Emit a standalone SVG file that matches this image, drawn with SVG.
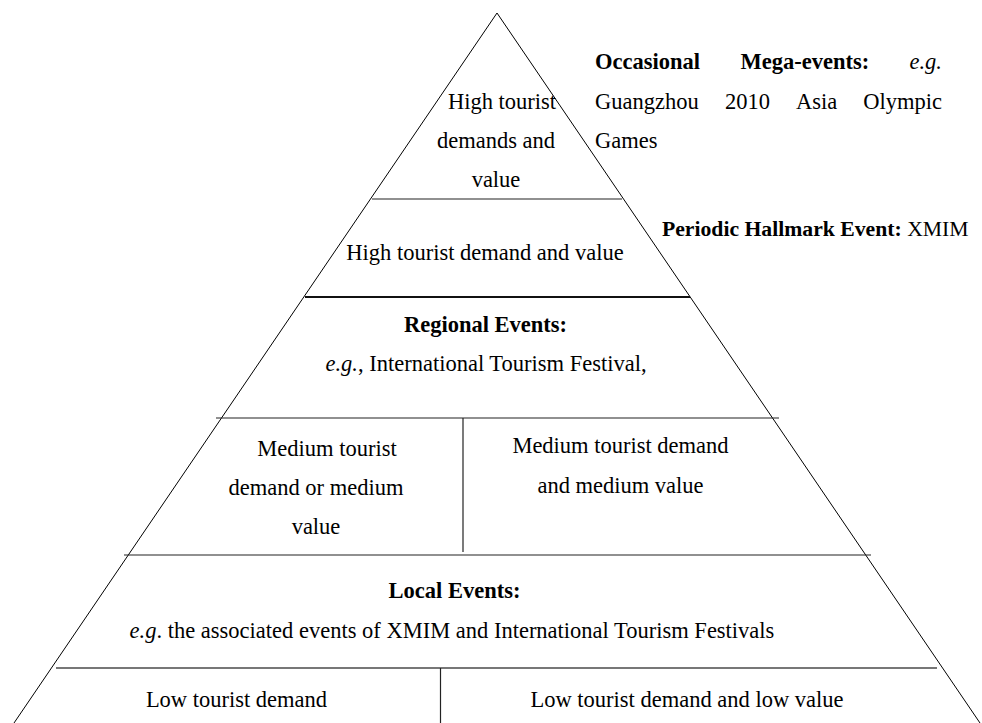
<svg xmlns="http://www.w3.org/2000/svg" width="982" height="723" viewBox="0 0 982 723">
  <style>
    text { font-family: "Liberation Serif", "Times New Roman", serif; font-size: 22.5px; fill: #000; }
    .c { text-anchor: middle; }
    .e { text-anchor: end; }
    .b { font-weight: bold; }
    .i { font-style: italic; }
    .edge { stroke: #000; stroke-width: 1; fill: none; }
    .tier { stroke: #222; stroke-width: 1.2; fill: none; }
    .thick { stroke: #111; stroke-width: 2; fill: none; }
    .grey { stroke: #777; stroke-width: 2; fill: none; }
  </style>
  <rect width="982" height="723" fill="#fff"/>

  <!-- pyramid outline and tier dividers -->
  <g id="connectors">
    <polyline class="edge" points="14,723 497,13 980,723"/>
    <line class="tier" x1="372" y1="199" x2="622" y2="199"/>
    <line class="thick" x1="305" y1="297" x2="690" y2="297"/>
    <line class="tier" x1="216" y1="418" x2="779" y2="418"/>
    <line class="tier" x1="463" y1="418" x2="463" y2="552"/>
    <line class="tier" x1="124" y1="555" x2="871" y2="555"/>
    <line class="grey" x1="56" y1="668" x2="937" y2="668"/>
    <line class="tier" x1="440.5" y1="668" x2="440.5" y2="723"/>
  </g>

  <g id="apex">
    <text class="c" x="502" y="109">High tourist</text>
    <text class="c" x="496" y="148">demands and</text>
    <text class="c" x="496" y="187">value</text>
  </g>

  <!-- justified paragraph beside the apex -->
  <g id="mega-events">
    <text class="b" x="595" y="69">Occasional</text>
    <text class="b" x="740.5" y="69">Mega-events:</text>
    <text class="e i" x="942" y="69">e.g.</text>
    <text x="595" y="109">Guangzhou</text>
    <text x="725" y="109">2010</text>
    <text x="796" y="109">Asia</text>
    <text class="e" x="942" y="109">Olympic</text>
    <text x="595" y="148">Games</text>
  </g>

  <g id="hallmark">
    <text class="c" x="485" y="260">High tourist demand and value</text>
  </g>

  <g id="hallmark-label">
    <text x="662" y="236" style="font-size:21.7px"><tspan class="b">Periodic Hallmark Event:</tspan> XMIM</text>
  </g>

  <g id="regional">
    <text class="c b" x="485.5" y="332">Regional Events:</text>
    <text class="c" x="486" y="371"><tspan class="i">e.g.</tspan>, International Tourism Festival,</text>
  </g>

  <g id="medium-or">
    <text class="c" x="327" y="456">Medium tourist</text>
    <text class="c" x="316" y="495">demand or medium</text>
    <text class="c" x="316" y="534">value</text>
  </g>

  <g id="medium-and">
    <text class="c" x="620.5" y="453">Medium tourist demand</text>
    <text class="c" x="620.5" y="493">and medium value</text>
  </g>

  <g id="local">
    <text class="c b" x="454.5" y="598">Local Events:</text>
    <text class="c" x="452" y="638"><tspan class="i">e.g</tspan>. the associated events of XMIM and International Tourism Festivals</text>
  </g>

  <g id="low-demand">
    <text class="c" x="236.5" y="707">Low tourist demand</text>
  </g>

  <g id="low-demand-value">
    <text class="c" x="687" y="707">Low tourist demand and low value</text>
  </g>
</svg>
